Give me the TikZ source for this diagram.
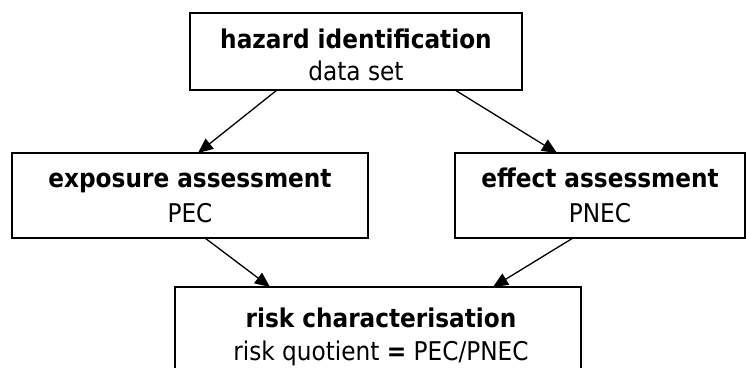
\documentclass[tikz,border=0pt]{standalone}
\usepackage{fontspec}
\setmainfont{DejaVu Sans Condensed}
\usetikzlibrary{arrows.meta,calc}
\begin{document}
\begin{tikzpicture}[x=1pt,y=-1pt,
  boxstyle/.style={draw=black,line width=1.5pt,inner sep=0pt,outer sep=0pt,fill=none},
  headtext/.style={anchor=base,inner sep=0pt,font=\fontsize{25.8pt}{32pt}\selectfont\bfseries},
  subtext/.style={anchor=base,inner sep=0pt,font=\fontsize{25.8pt}{32pt}\selectfont},
  link/.style={line width=1.3pt,-{Triangle[length=15pt,width=13pt]}}]
\useasboundingbox (0,0) rectangle (746,367);
\clip (0,0) rectangle (746,367);
% boxes
\node[boxstyle,minimum width=332pt,minimum height=77pt] (top) at (356,51.5) {};
\node[boxstyle,minimum width=356pt,minimum height=85pt] (left) at (190,195.5) {};
\node[boxstyle,minimum width=290pt,minimum height=85pt] (right) at (600,195.5) {};
\node[boxstyle,minimum width=406pt,minimum height=100pt] (bot) at (378,337) {};
% texts
\node[headtext] (t1) at (356,48) {hazard identification};
\node[subtext] (t2) at (356,80) {data set};
\node[headtext] (l1) at (190,187) {exposure assessment};
\node[subtext] (l2) at (190,222) {PEC};
\node[headtext] (r1) at (600,187) {effect assessment};
\node[subtext] (r2) at (600,222) {PNEC};
\node[headtext] (b1) at (381,327) {risk characterisation};
\node[subtext] (b2) at (381,360) {risk quotient \textbf{=} PEC/PNEC};
% connectors
\draw[link] ($(top.south west)+(87,0)$) -- ($(left.north west)+(186,0)$);
\draw[link] ($(top.south east)+(-67,0)$) -- ($(right.north west)+(102,0)$);
\draw[link] ($(left.south west)+(193,0)$) -- ($(bot.north west)+(95,0)$);
\draw[link] ($(right.south west)+(118,0)$) -- ($(bot.north west)+(318,0)$);
\end{tikzpicture}
\end{document}
